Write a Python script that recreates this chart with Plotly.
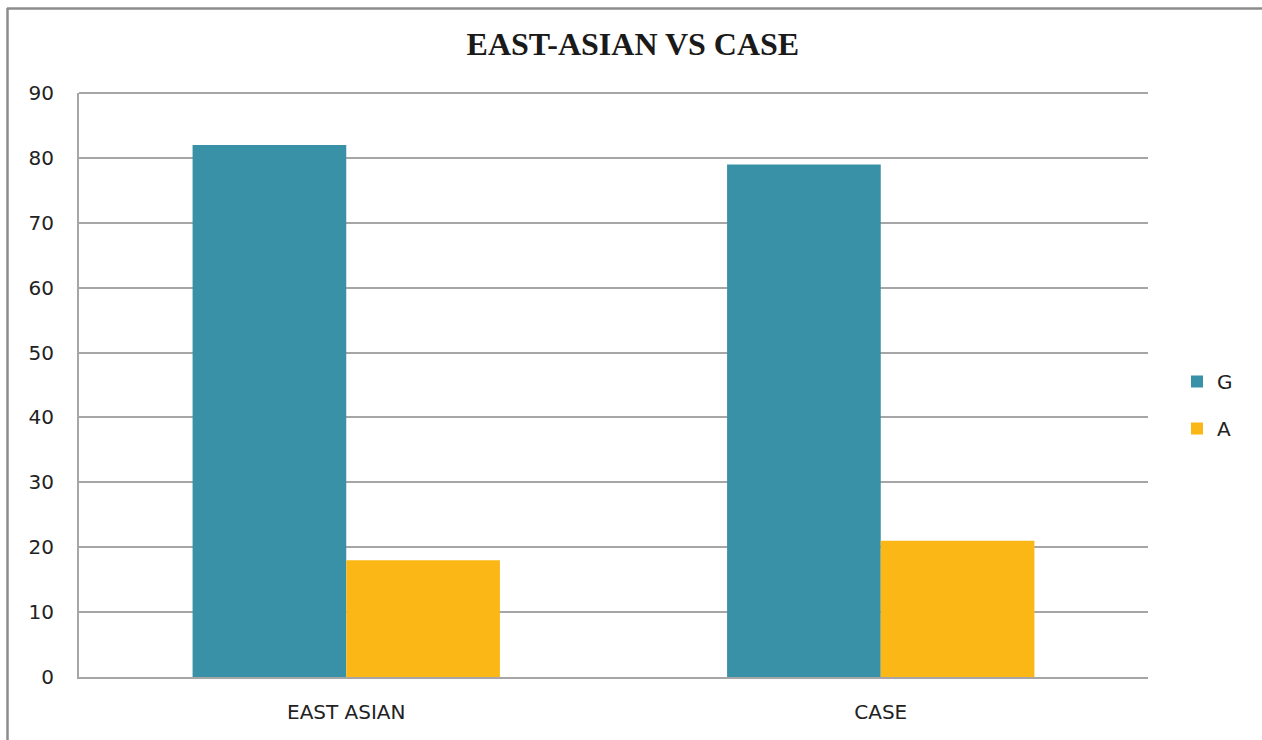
import plotly.graph_objects as go

categories = ["EAST ASIAN", "CASE"]
series_names = ["G", "A"]
g_values = [82, 79]
a_values = [18, 21]
colors = ["#3891A6", "#FBB716"]
y_ticks = [0, 10, 20, 30, 40, 50, 60, 70, 80, 90]

W, H = 1262, 740
L, R, T, B = 79, 1148, 93, 677

fig = go.Figure()
for name, vals, col in zip(series_names, [g_values, a_values], colors):
    fig.add_trace(go.Bar(x=categories, y=vals, name=name, marker_color=col,
                         marker_line_width=0, legendgroup=name))

def px_x(p):
    return (p - L) / (R - L)

def px_y(p):
    return (B - p) / (B - T)

fig.update_layout(
    width=W, height=H,
    margin=dict(l=L, r=W - R, t=T, b=H - B, pad=0),
    paper_bgcolor="white", plot_bgcolor="white",
    barmode="group", bargap=0.425, bargroupgap=0,
    title=dict(text="<b>EAST-ASIAN VS CASE</b>", x=0.5015, xanchor="center",
               y=1 - 44 / H, yanchor="middle",
               font=dict(family="Liberation Serif", size=32, color="#1a1a1a")),
    font=dict(family="DejaVu Sans", size=20, color="#222222"),
    xaxis=dict(showgrid=False, showline=True, linecolor="#A6A6A6", linewidth=2,
               ticks="", tickfont=dict(size=20), ticklabelstandoff=16),
    yaxis=dict(range=[0, 90], tickvals=y_ticks, showgrid=True, gridcolor="#A6A6A6",
               gridwidth=2, showline=True, linecolor="#A6A6A6", linewidth=2,
               ticks="", zeroline=False, tickfont=dict(size=20),
               ticklabelstandoff=19),
    legend=dict(x=px_x(1177), xanchor="left", y=px_y(362), yanchor="top",
                font=dict(size=20), traceorder="grouped", tracegroupgap=18,
                itemwidth=30, bgcolor="rgba(0,0,0,0)"),
    shapes=[
        dict(type="line", xref="paper", yref="paper", x0=0, x1=1,
             y0=1, y1=1, line=dict(color="#A6A6A6", width=2)),
        dict(type="line", xref="paper", yref="paper", x0=px_x(7), x1=px_x(1300),
             y0=px_y(8.5), y1=px_y(8.5), line=dict(color="#8C8C8C", width=2.5)),
        dict(type="line", xref="paper", yref="paper", x0=px_x(7.5), x1=px_x(7.5),
             y0=px_y(8), y1=px_y(760), line=dict(color="#8C8C8C", width=2.5)),
    ],
)

fig.write_html("out.html")
